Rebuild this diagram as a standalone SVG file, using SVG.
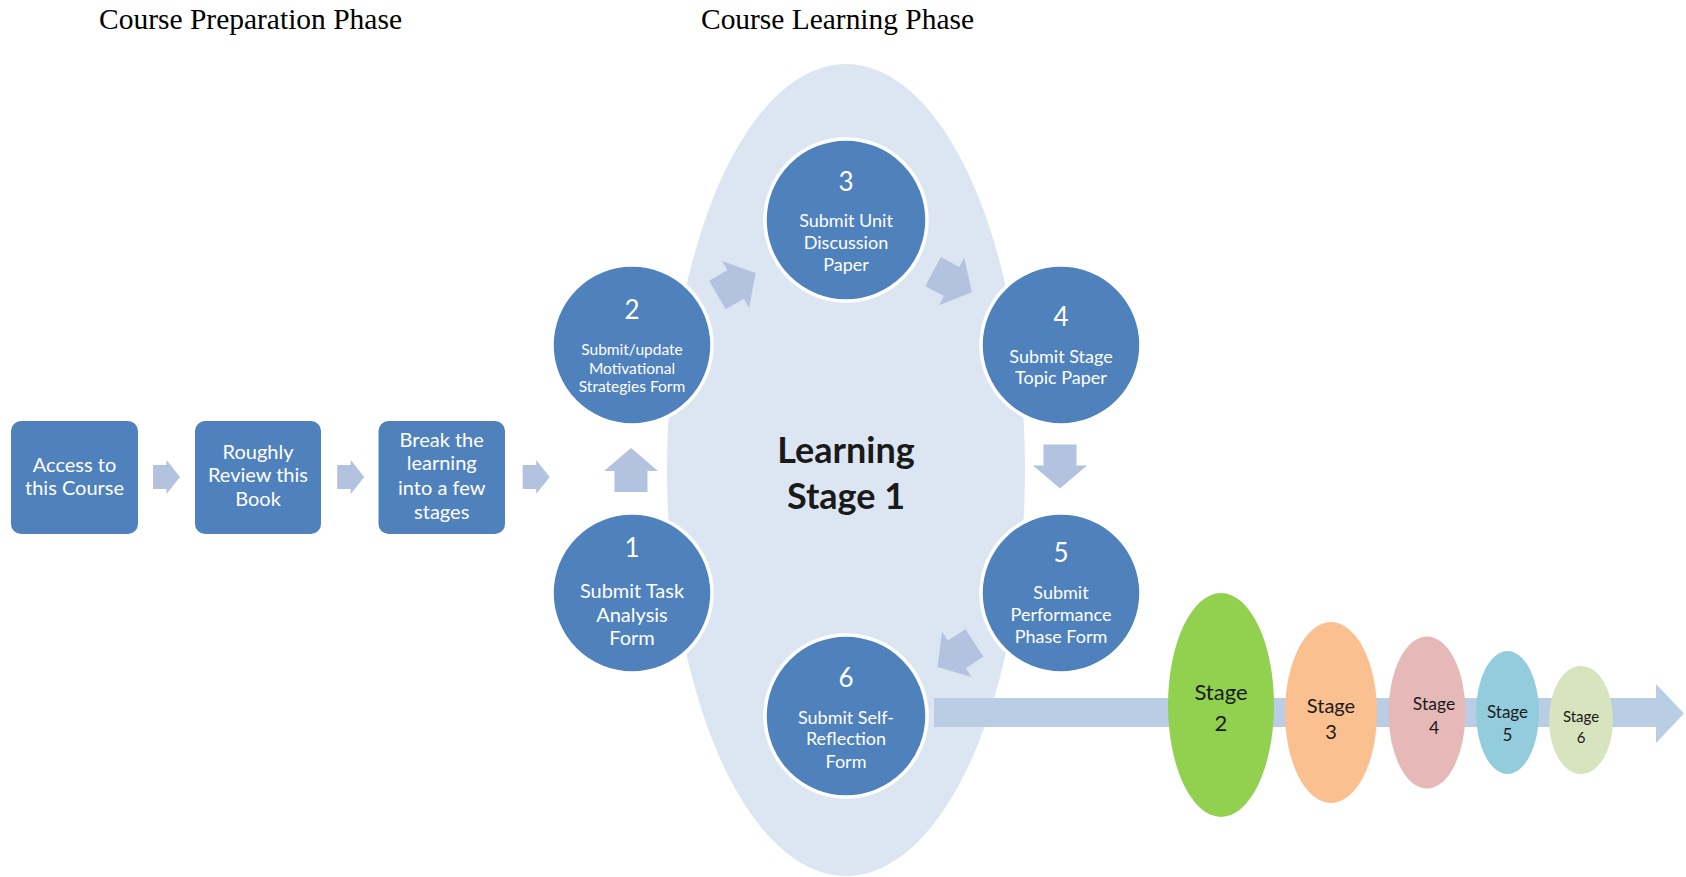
<svg xmlns="http://www.w3.org/2000/svg" xmlns:xlink="http://www.w3.org/1999/xlink" width="1686" height="877" viewBox="0 0 1686 877">
  <style>
    .title { font-family: "Liberation Serif", "Times New Roman", serif; font-size: 30px; fill: #000; }
    .box { fill: #4F81BD; }
    .step { fill: #4F81BD; stroke: #FFFFFF; stroke-width: 3.5; }
    .wt { font-family: Lato, "Open Sans", sans-serif; fill: #FFFFFF; text-anchor: middle; }
    .bk { font-family: Lato, "Open Sans", sans-serif; fill: #1A1A1A; text-anchor: middle; }
    .arrow { fill: #B2C2DF; }
  </style>
  <defs>
    <!-- block arrow pointing right, centred on the origin -->
    <path id="blk" d="M-22,-16.5 H-1 V-27 L22,0 L-1,27 V16.5 H-22 Z"/>
    <path id="blk-s" d="M-13.5,-12 H0 V-17 L13.5,0 L0,17 V12 H-13.5 Z"/>
  </defs>

  <rect width="1686" height="877" fill="#FFFFFF"/>

  <!-- phase headings -->
  <text class="title" x="99" y="29" textLength="303" lengthAdjust="spacingAndGlyphs">Course Preparation Phase</text>
  <text class="title" x="701" y="29" textLength="273" lengthAdjust="spacingAndGlyphs">Course Learning Phase</text>

  <!-- learning stage backdrop -->
  <ellipse id="stage1-area" cx="846" cy="470" rx="179" ry="406" fill="#DCE6F2"/>

  <!-- connectors -->
  <g id="connectors">
    <g class="arrow">
      <use xlink:href="#blk-s" transform="translate(166.5,477)"/>
      <use xlink:href="#blk-s" transform="translate(350.7,477)"/>
      <use xlink:href="#blk-s" transform="translate(536.2,477)"/>
      <use xlink:href="#blk" transform="translate(631,470) rotate(-90)"/>
      <use xlink:href="#blk" transform="translate(736.5,284) rotate(-30)"/>
      <use xlink:href="#blk" transform="translate(952.5,282) rotate(28)"/>
      <use xlink:href="#blk" transform="translate(1060,466.5) rotate(90)"/>
      <use xlink:href="#blk" transform="translate(956,655) rotate(147)"/>
    </g>
    <!-- timeline toward later stages -->
    <path id="timeline" d="M934,698 H1656 V684 L1684,713.5 L1656,743 V727 H934 Z" fill="#B9CDE5"/>
  </g>

  <!-- preparation boxes -->
  <g id="access">
    <rect class="box" x="11" y="421" width="127" height="113" rx="10"/>
    <text class="wt" font-size="20"><tspan x="74.5" y="471.5">Access to</tspan><tspan x="74.5" y="494.5">this Course</tspan></text>
  </g>
  <g id="review">
    <rect class="box" x="195" y="421" width="126" height="113" rx="10"/>
    <text class="wt" font-size="20"><tspan x="258" y="458.5">Roughly</tspan><tspan x="258" y="481.5">Review this</tspan><tspan x="258" y="505.5">Book</tspan></text>
  </g>
  <g id="break">
    <rect class="box" x="378.5" y="421" width="126.5" height="113" rx="10"/>
    <text class="wt" font-size="20"><tspan x="441.7" y="446.5">Break the</tspan><tspan x="441.7" y="469.5">learning</tspan><tspan x="441.7" y="494.5">into a few</tspan><tspan x="441.7" y="518.5">stages</tspan></text>
  </g>

  <!-- learning cycle -->
  <g id="step1">
    <circle class="step" cx="632" cy="593" r="80"/>
    <text class="wt" font-size="26" x="632" y="557">1</text>
    <text class="wt" font-size="20"><tspan x="632" y="597.5">Submit Task</tspan><tspan x="632" y="621.5">Analysis</tspan><tspan x="632" y="644.5">Form</tspan></text>
  </g>
  <g id="step2">
    <circle class="step" cx="632" cy="345" r="80"/>
    <text class="wt" font-size="26" x="632" y="319">2</text>
    <text class="wt" font-size="15.5"><tspan x="632" y="355">Submit/update</tspan><tspan x="632" y="373.5">Motivational</tspan><tspan x="632" y="392">Strategies Form</tspan></text>
  </g>
  <g id="step3">
    <circle class="step" cx="846" cy="220" r="81"/>
    <text class="wt" font-size="26" x="846" y="191">3</text>
    <text class="wt" font-size="18"><tspan x="846" y="227">Submit Unit</tspan><tspan x="846" y="249">Discussion</tspan><tspan x="846" y="271">Paper</tspan></text>
  </g>
  <g id="step4">
    <circle class="step" cx="1061" cy="345" r="80"/>
    <text class="wt" font-size="26" x="1061" y="326">4</text>
    <text class="wt" font-size="18"><tspan x="1061" y="363">Submit Stage</tspan><tspan x="1061" y="384">Topic Paper</tspan></text>
  </g>
  <g id="step5">
    <circle class="step" cx="1061" cy="593" r="80"/>
    <text class="wt" font-size="26" x="1061" y="562">5</text>
    <text class="wt" font-size="18"><tspan x="1061" y="599">Submit</tspan><tspan x="1061" y="621">Performance</tspan><tspan x="1061" y="643">Phase Form</tspan></text>
  </g>
  <g id="step6">
    <circle class="step" cx="846" cy="716" r="81"/>
    <text class="wt" font-size="26" x="846" y="687">6</text>
    <text class="wt" font-size="18"><tspan x="846" y="724">Submit Self-</tspan><tspan x="846" y="745">Reflection</tspan><tspan x="846" y="768">Form</tspan></text>
  </g>

  <g id="stage1-label">
    <text class="bk" font-size="36" font-weight="bold" fill="#000"><tspan x="846" y="463">Learning</tspan><tspan x="846" y="509">Stage 1</tspan></text>
  </g>

  <!-- later stages -->
  <g id="stage2">
    <ellipse cx="1221" cy="705" rx="53" ry="112" fill="#92D050"/>
    <text class="bk" font-size="22"><tspan x="1221" y="700">Stage</tspan><tspan x="1221" y="731">2</tspan></text>
  </g>
  <g id="stage3">
    <ellipse cx="1331" cy="712.5" rx="46" ry="90.5" fill="#FAC090"/>
    <text class="bk" font-size="20"><tspan x="1331" y="712.5">Stage</tspan><tspan x="1331" y="739">3</tspan></text>
  </g>
  <g id="stage4">
    <ellipse cx="1427" cy="712.5" rx="38.5" ry="76" fill="#E6B9B8"/>
    <text class="bk" font-size="17.5"><tspan x="1434" y="710">Stage</tspan><tspan x="1434" y="734">4</tspan></text>
  </g>
  <g id="stage5">
    <ellipse cx="1507.5" cy="712.5" rx="31.5" ry="61.5" fill="#93CDDD"/>
    <text class="bk" font-size="17"><tspan x="1507.5" y="717.5">Stage</tspan><tspan x="1507.5" y="741">5</tspan></text>
  </g>
  <g id="stage6">
    <ellipse cx="1581" cy="720" rx="32" ry="54" fill="#D7E4BD"/>
    <text class="bk" font-size="15"><tspan x="1581" y="722">Stage</tspan><tspan x="1581" y="743">6</tspan></text>
  </g>
</svg>
